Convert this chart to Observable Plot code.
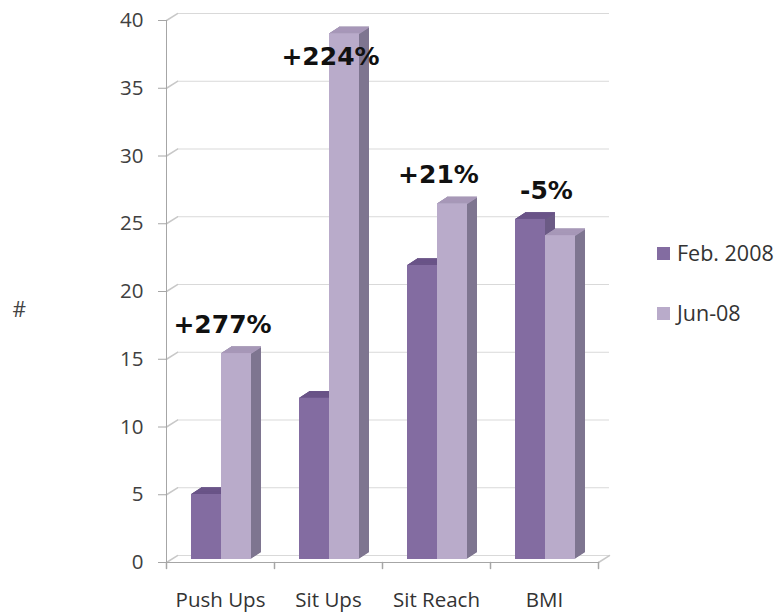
<!DOCTYPE html>
<html><head><meta charset="utf-8">
<script src="https://cdn.jsdelivr.net/npm/d3@7"></script>
<script src="https://cdn.jsdelivr.net/npm/@observablehq/plot@0.6"></script>
<style>
body{margin:0;background:#fff;}
#wrap{position:relative;width:778px;height:613px;font-family:"Open Sans",sans-serif;}
.legend{position:absolute;left:657px;height:24px;font-size:21.5px;line-height:24px;color:#333;display:flex;align-items:center;white-space:nowrap;}
.sw{width:13px;height:13px;margin-right:7px;flex:none;}
</style></head><body>
<div id="wrap"></div>
<script>
// ---- data ----
const categories = ["Push Ups", "Sit Ups", "Sit Reach", "BMI"];
const seriesNames = ["Feb. 2008", "Jun-08"];
const feb2008 = [4.8, 11.9, 21.7, 25.1];
const jun08 = [15.2, 38.8, 26.25, 23.9];
const changeLabels = ["+277%", "+224%", "+21%", "-5%"];
const yTicks = [0, 5, 10, 15, 20, 25, 30, 35, 40];
const yAxisLabel = "#";

// ---- styles ----
const colors = {
  front: ["#836ca1", "#b9abca"],
  side: ["#6b5a85", "#7e7590"],
  cap: ["#6a5488", "#a798b8"]
};
const W = 778, H = 613, mL = 166, mR = 180, mT = 20, mB = 51;
const step = (W - mL - mR) / categories.length;
const barW = 30, leftPad = 25;
const depth = 10, slope = 0.65, lift = 3;
const lineShape = {draw(context, l) { context.moveTo(0, 0); context.lineTo(0, -l); }};

const rows = [feb2008, jun08].map((vals, s) =>
  categories.map((c, i) => ({category: c, series: seriesNames[s], value: vals[i]})));
const labelRows = categories.map((c, i) => ({
  category: c, label: changeLabels[i], top: Math.max(feb2008[i], jun08[i])
}));

const marks = [
  Plot.ruleY(yTicks, {dx: 11, dy: -7, stroke: "#d9d9d9"}),
  Plot.vector(yTicks, {x: () => categories[0], y: d => d, dx: -step / 2, length: 13, rotate: 57.5,
    anchor: "start", shape: lineShape, stroke: "#c8c8c8", fill: "none"}),
  Plot.vector([0], {x: () => categories[categories.length - 1], y: d => d, dx: step / 2, length: 13, rotate: 57.5,
    anchor: "start", shape: lineShape, stroke: "#c8c8c8", fill: "none"}),
  Plot.ruleY([0], {stroke: "#a6a6a6"}),
  Plot.ruleX([categories[0]], {dx: -step / 2, y1: 0, y2: 40, stroke: "#a6a6a6"}),
  Plot.vector(categories, {x: d => d, y: () => 0, dx: -step / 2, length: 6, rotate: 180,
    anchor: "start", shape: lineShape, stroke: "#a6a6a6", fill: "none"}),
  Plot.vector([categories[categories.length - 1]], {x: d => d, y: () => 0, dx: step / 2, length: 6, rotate: 180,
    anchor: "start", shape: lineShape, stroke: "#a6a6a6", fill: "none"})
];

rows.forEach((data, s) => {
  const insetLeft = leftPad + s * barW;
  const insetRight = step - insetLeft - barW;
  for (let k = depth; k >= 1; k--) {
    marks.push(Plot.barY(data, {x: "category", y: "value", dx: k, dy: -lift - k * slope,
      insetLeft, insetRight, fill: colors.side[s]}));
  }
  for (let k = depth; k >= 0; k--) {
    marks.push(Plot.tickY(data, {x: "category", y: "value", dx: k, dy: -lift - k * slope,
      insetLeft, insetRight, stroke: colors.cap[s], strokeWidth: 1.5}));
  }
  marks.push(Plot.barY(data, {x: "category", y: "value", dy: -lift, insetLeft, insetRight, fill: colors.front[s]}));
});

marks.push(
  Plot.text(labelRows, {x: "category", y: d => Math.min(d.top + 2.35, 37.3), text: "label", dx: 2,
    fontFamily: "DejaVu Sans", fontWeight: "bold", fontSize: 25, fill: "#111"}),
  Plot.axisY({ticks: yTicks, tickSize: 8, tickPadding: 15, stroke: "#a6a6a6", fill: "#404040", label: null}),
  Plot.axisX({tickSize: 0, tickPadding: 30, fill: "#333", label: null}),
  Plot.text([yAxisLabel], {frameAnchor: "left", dx: -154, dy: 19, text: d => d, fontSize: 21, fill: "#444"})
);

const chart = Plot.plot({
  width: W, height: H,
  marginLeft: mL, marginRight: mR, marginTop: mT, marginBottom: mB,
  x: {domain: categories, padding: 0, label: null},
  y: {domain: [0, 40], label: null},
  style: {fontFamily: "'Open Sans', sans-serif", fontSize: "20.5px", color: "#333", background: "#fff"},
  marks
});

const wrap = document.getElementById("wrap");
wrap.appendChild(chart);
const legendCenters = [253, 313];
seriesNames.forEach((name, s) => {
  const item = document.createElement("div");
  item.className = "legend";
  item.style.top = (legendCenters[s] - 12) + "px";
  const sw = document.createElement("span");
  sw.className = "sw";
  sw.style.background = colors.front[s];
  const t = document.createElement("span");
  t.textContent = name;
  item.appendChild(sw); item.appendChild(t);
  wrap.appendChild(item);
});
</script>
</body></html>
